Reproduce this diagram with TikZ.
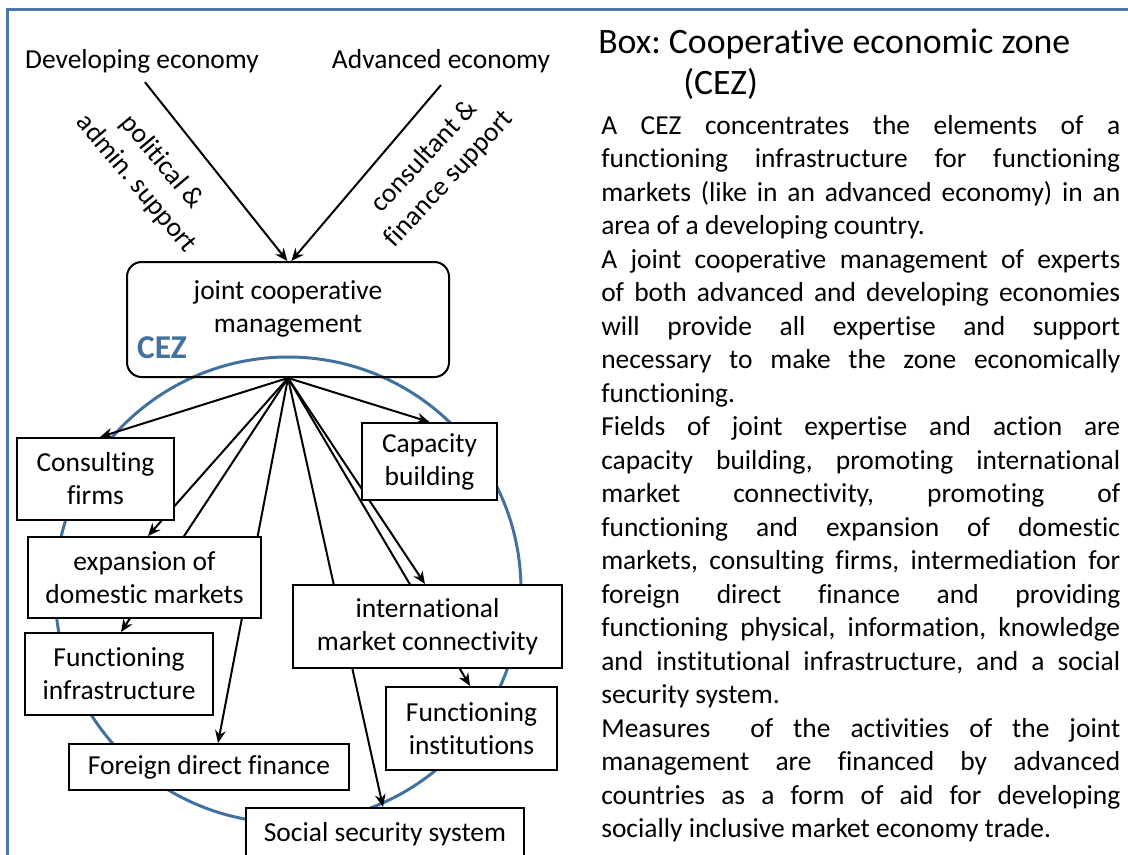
\documentclass[tikz,border=0pt]{standalone}
\usepackage{fontspec}
\setmainfont{Carlito}[Ligatures=NoCommon]
\usetikzlibrary{arrows.meta}
\pgfdeclarelayer{bg}
\pgfsetlayers{bg,main}
\definecolor{cezblue}{HTML}{41719C}
\definecolor{frameblue}{HTML}{4A76A8}
\newcommand\jl[1]{\makebox[389.25pt][s]{#1}}
\frenchspacing
\begin{document}
\frenchspacing
\begin{tikzpicture}[x=0.75pt,y=-0.75pt,
  lbl/.style={font=\fontsize{20.6}{24.75}\selectfont, align=center, inner sep=0pt},
  box/.style={draw=black, line width=1.5pt, fill=white, inner sep=0pt, font=\fontsize{20.6}{24.75}\selectfont, align=center},
  conn/.style={line width=1.5pt, -{Stealth[length=9.5pt,width=8pt]}},
  body/.style={font=\fontsize{20.6}{25}\selectfont, anchor=base west, inner sep=0pt},
  head/.style={font=\fontsize{26.8}{30}\selectfont, anchor=base west, inner sep=0pt},
]
\useasboundingbox (0,0) rectangle (1128,854);
\draw[frameblue, line width=2.25pt] (7,860) -- (7,9) -- (1135,9);

% top labels
\node[lbl] (dev) at (142,61) {Developing economy};
\node[lbl] (adv) at (441,61) {Advanced economy};
\node[lbl, rotate=-50] (pol) at (149,173) {political \&\\admin. support};
\node[lbl, rotate=47] (fin) at (437,168) {consultant \&\\finance support};

% management box
\node[draw=black, line width=1.5pt, rounded corners=11pt, minimum width=241.5pt, minimum height=86.25pt, inner sep=0pt] (jcm) at (288,319.5) {};
\node[lbl] (jcmt) at (288,308.5) {joint cooperative\\management};
\node[font=\bfseries\fontsize{25}{25}\selectfont, text=cezblue, inner sep=0pt] (cez) at (162,348) {CEZ};

% boxes
\node[box, minimum width=117.75pt, minimum height=61.5pt] (cons) at (95.5,479) {Consulting\\firms};
\node[box, minimum width=101.25pt, minimum height=57.75pt] (cap) at (429.5,461.5) {Capacity\\building};
\node[box, minimum width=174.75pt, minimum height=60.75pt] (exp) at (144.5,577.5) {expansion of\\domestic markets};
\node[box, minimum width=201.75pt, minimum height=62.25pt] (intl) at (427.5,626.5) {international\\market connectivity};
\node[box, minimum width=141pt, minimum height=61.5pt] (infra) at (119,674) {Functioning\\infrastructure};
\node[box, minimum width=128.25pt, minimum height=62.25pt] (inst) at (471.5,728.5) {Functioning\\institutions};
\node[box, minimum width=210pt, minimum height=34.5pt] (fdf) at (209,767) {Foreign direct finance};
\node[box, minimum width=208.5pt, minimum height=39pt] (soc) at (385,834) {Social security system};

\coordinate (o) at (jcm.south);

\begin{pgfonlayer}{bg}
\draw[cezblue, line width=2.25pt] (288,590) circle (174.75pt);
\draw[conn] ([xshift=2.2pt,yshift=-6.75pt]dev.south) -- ([xshift=-0.5pt]jcm.north);
\draw[conn] ([yshift=-9pt]adv.south) -- ([xshift=2.5pt]jcm.north);
\draw[conn] (o) -- ([xshift=3.4pt]cons.north);
\draw[conn] (o) -- (cap.north);
\draw[conn] (o) -- ([xshift=2.6pt]exp.north);
\draw[conn] (o) -- ([xshift=1.5pt]infra.north);
\draw[conn] (o) -- ([xshift=6.75pt]fdf.north);
\draw[conn] (o) -- ([xshift=-1.5pt]soc.north);
\draw[conn] (o) -- ([xshift=-1.9pt]intl.north);
\draw[conn] (o) -- ([xshift=-1.1pt]inst.north);
\end{pgfonlayer}

% right text
\node[head] (h1) at (598,53) {Box: Cooperative economic zone};
\node[head] (h2) at (683,94) {(CEZ)};
\node[body] (t1) at (601,134) {\jl{A CEZ concentrates the elements of a}};
\node[body] (t2) at (601,167.5) {\jl{functioning infrastructure for functioning}};
\node[body] (t3) at (601,201) {\jl{markets (like in an advanced economy) in an}};
\node[body] (t4) at (601,234.5) {area of a developing country.};
\node[body] (t5) at (601,268) {\jl{A joint cooperative management of experts}};
\node[body] (t6) at (601,301.5) {\jl{of both advanced and developing economies}};
\node[body] (t7) at (601,335) {\jl{will provide all expertise and support}};
\node[body] (t8) at (601,368.5) {\jl{necessary to make the zone economically}};
\node[body] (t9) at (601,402) {functioning.};
\node[body] (t10) at (601,435.5) {\jl{Fields of joint expertise and action are}};
\node[body] (t11) at (601,469) {\jl{capacity building, promoting international}};
\node[body] (t12) at (601,502.5) {\jl{market connectivity, promoting of}};
\node[body] (t13) at (601,536) {\jl{functioning and expansion of domestic}};
\node[body] (t14) at (601,569.5) {\jl{markets, consulting firms, intermediation for}};
\node[body] (t15) at (601,603) {\jl{foreign direct finance and providing}};
\node[body] (t16) at (601,636.5) {\jl{functioning physical, information, knowledge}};
\node[body] (t17) at (601,670) {\jl{and institutional infrastructure, and a social}};
\node[body] (t18) at (601,703.5) {security system.};
\node[body] (t19) at (601,737) {\jl{Measures \ of the activities of the joint}};
\node[body] (t20) at (601,770.5) {\jl{management are financed by advanced}};
\node[body] (t21) at (601,804) {\jl{countries as a form of aid for developing}};
\node[body] (t22) at (601,837.5) {socially inclusive market economy trade.};
\end{tikzpicture}
\end{document}
